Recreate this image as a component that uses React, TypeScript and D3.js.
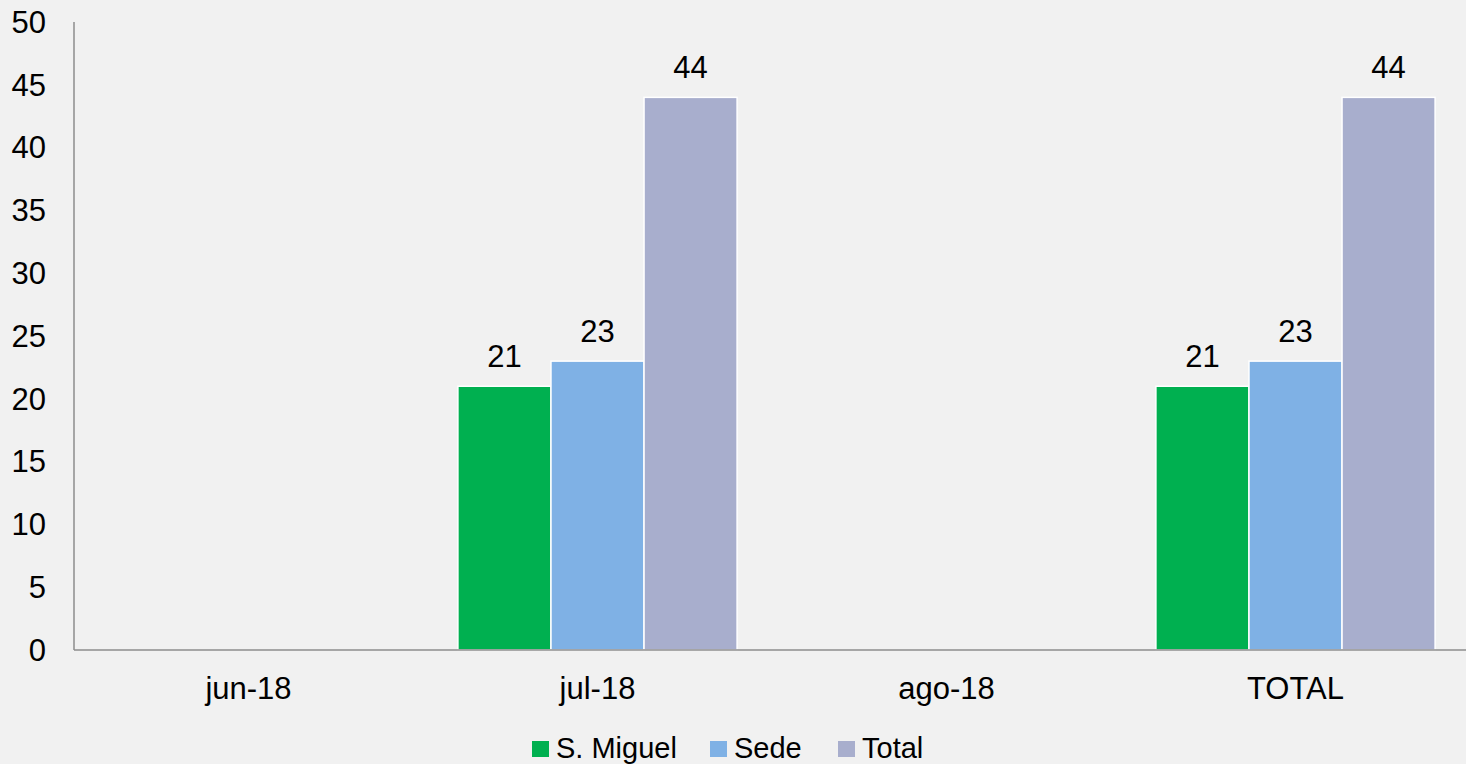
import React, { useEffect, useRef } from 'react';
import * as d3 from 'd3';

const categories = ['jun-18', 'jul-18', 'ago-18', 'TOTAL'];
const seriesNames = ['S. Miguel', 'Sede', 'Total'];
const sMiguel = [0, 21, 0, 21];
const sede = [0, 23, 0, 23];
const total = [0, 44, 0, 44];
const yTicks = [0, 5, 10, 15, 20, 25, 30, 35, 40, 45, 50];
const colors = ['#00b050', '#7fb1e5', '#a8aecd'];

const W = 1466;
const H = 764;
const FONT = '"Liberation Sans", Arial, sans-serif';

export default function App() {
  const ref = useRef<SVGSVGElement>(null);

  useEffect(() => {
    const svg = d3.select(ref.current);
    svg.selectAll('*').remove();

    svg.append('rect')
      .attr('width', W)
      .attr('height', H)
      .attr('fill', '#f1f1f1');

    const left = 74;
    const right = 1470;
    const top = 22;
    const bottom = 650;

    const x0 = d3.scaleBand<string>()
      .domain(categories)
      .range([left, right])
      .paddingInner(0.2)
      .paddingOuter(0.1);

    const x1 = d3.scaleBand<string>()
      .domain(seriesNames)
      .range([0, x0.bandwidth()])
      .padding(0);

    const y = d3.scaleLinear().domain([0, 50]).range([bottom, top]);

    const values = [sMiguel, sede, total];

    // bars + value labels
    const groups = svg.append('g')
      .selectAll('g')
      .data(categories)
      .enter()
      .append('g')
      .attr('transform', d => `translate(${x0(d)},0)`);

    groups.each(function (cat, ci) {
      const g = d3.select(this);
      seriesNames.forEach((s, si) => {
        const v = values[si][ci];
        if (!v) return;
        g.append('rect')
          .attr('x', x1(s)!)
          .attr('y', y(v))
          .attr('width', x1.bandwidth())
          .attr('height', y(0) - y(v))
          .attr('fill', colors[si])
          .attr('stroke', '#ffffff')
          .attr('stroke-width', 1.5);
        g.append('text')
          .attr('x', x1(s)! + x1.bandwidth() / 2)
          .attr('y', y(v) - 19)
          .attr('text-anchor', 'middle')
          .attr('font-family', FONT)
          .attr('font-size', 31)
          .attr('fill', '#000')
          .text(v);
      });
    });

    // axis lines
    svg.append('line')
      .attr('x1', left).attr('x2', left)
      .attr('y1', top).attr('y2', bottom)
      .attr('stroke', '#8c8c8c')
      .attr('stroke-width', 1.5);

    svg.append('line')
      .attr('x1', left).attr('x2', W)
      .attr('y1', bottom).attr('y2', bottom)
      .attr('stroke', '#8c8c8c')
      .attr('stroke-width', 1.5);

    svg.append('g')
      .selectAll('text')
      .data(yTicks)
      .enter()
      .append('text')
      .attr('x', 46)
      .attr('y', d => y(d))
      .attr('dy', '0.35em')
      .attr('text-anchor', 'end')
      .attr('font-family', FONT)
      .attr('font-size', 31)
      .attr('fill', '#000')
      .text(d => d);

    // category labels
    svg.append('g')
      .selectAll('text')
      .data(categories)
      .enter()
      .append('text')
      .attr('x', d => x0(d)! + x0.bandwidth() / 2)
      .attr('y', 699)
      .attr('text-anchor', 'middle')
      .attr('font-family', FONT)
      .attr('font-size', 31)
      .attr('fill', '#000')
      .text(d => d);

    // legend
    const legendX = [532, 710, 838];
    const legend = svg.append('g');
    seriesNames.forEach((s, i) => {
      legend.append('rect')
        .attr('x', legendX[i])
        .attr('y', 741)
        .attr('width', 17)
        .attr('height', 16)
        .attr('fill', colors[i]);
      legend.append('text')
        .attr('x', legendX[i] + 24)
        .attr('y', 758)
        .attr('font-family', FONT)
        .attr('font-size', 29)
        .attr('fill', '#000')
        .text(s);
    });
  }, []);

  return (
    <div style={{ position: 'fixed', left: 0, top: 0 }}>
      <svg ref={ref} width={W} height={H} style={{ display: 'block' }} />
    </div>
  );
}
